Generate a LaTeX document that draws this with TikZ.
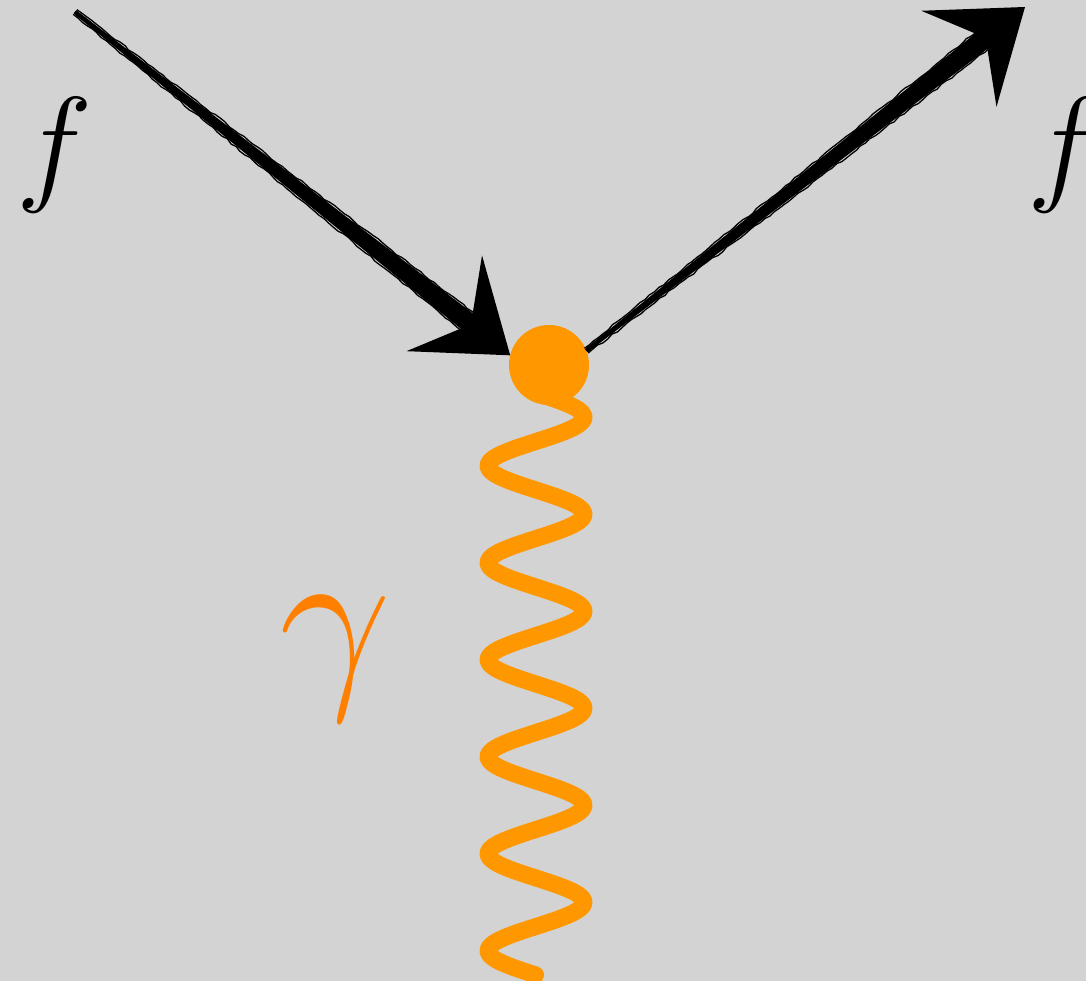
\documentclass[tikz,border=0pt]{standalone}
\usepackage{xcolor}
\usetikzlibrary{arrows.meta,calc,decorations.pathmorphing}
\definecolor{bggray}{RGB}{211,211,211}
\definecolor{photonorange}{RGB}{255,152,0}
\definecolor{gammaorange}{RGB}{255,128,0}
\pgfmathsetseed{7}

\begin{document}
\begin{tikzpicture}[
  x=1pt, y=1pt,
  fermion/.style={line width=4pt,-{Stealth[length=84pt,width=122pt,inset=34pt,line width=0pt]}},
  strand/.style={line width=1.3pt,decorate,decoration={random steps,segment length=6pt,amplitude=0.9pt}},
  photon/.style={photonorange,line width=17pt,line cap=round,line join=round},
  vertex/.style={circle,fill=photonorange,minimum size=80pt,inner sep=0pt,outer sep=0pt},
  flabel/.style={inner sep=0pt,font=\Huge,scale=5.2}
]

% Background
\fill[bggray] (0,0) rectangle (1086,981);
\useasboundingbox (0,0) rectangle (1086,981);

% Photon
\coordinate (gtop) at (536,588);
\draw[photon,shift={(gtop)}] plot[domain=0:6,samples=241,smooth] ({48*sin(360*\x)},{-97*\x}) coordinate (gend);

% Vertex
\node[vertex] (v) at (549,616) {};

% Incoming fermion
\coordinate (fin) at (75,969);
\coordinate (tinb) at ($(v.166)!40pt!(fin)$);
\fill ($(fin)!2pt!90:(tinb)$) -- ($(tinb)!10pt!-90:(fin)$) -- ($(tinb)!10pt!90:(fin)$) -- ($(fin)!2pt!-90:(tinb)$) -- cycle;
\foreach \a/\b in {-3/-11,1/-5,-1/4,3/11}
  \draw[strand] ($(fin)!\a pt!90:(tinb)$) -- ($(tinb)!\b pt!-90:(fin)$);
\draw[fermion] (fin) -- (v.166);

% Outgoing fermion
\coordinate (fout) at (1025,974);
\coordinate (toutb) at ($(fout)!40pt!(v.21)$);
\fill ($(v.21)!2pt!90:(toutb)$) -- ($(toutb)!10pt!-90:(v.21)$) -- ($(toutb)!10pt!90:(v.21)$) -- ($(v.21)!2pt!-90:(toutb)$) -- cycle;
\foreach \a/\b in {-3/-11,1/-5,-1/4,3/11}
  \draw[strand] ($(v.21)!\a pt!90:(toutb)$) -- ($(toutb)!\b pt!-90:(v.21)$);
\draw[fermion] (v.21) -- (fout);

% Labels
\node[flabel] (lf) at (55,826) {$f$};
\node[flabel] (rf) at (1066,826) {$f$};
\node[flabel,scale=1.54,text=gammaorange] (lg) at (336,322) {$\gamma$};

\end{tikzpicture}
\end{document}
